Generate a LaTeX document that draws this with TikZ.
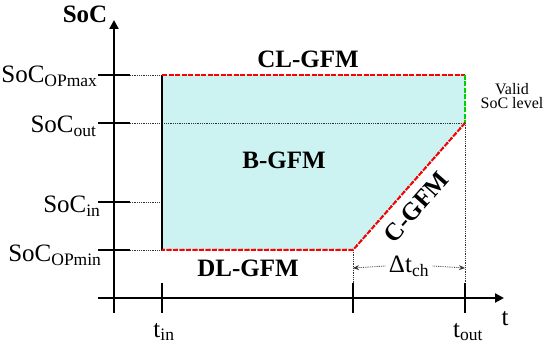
\documentclass[tikz,border=0pt]{standalone}
\usepackage{fontspec}
\setmainfont{Liberation Serif}
\usetikzlibrary{
  arrows.meta,
  positioning,
  calc
}
\definecolor{regionfill}{RGB}{204,242,242}
\definecolor{validgreen}{RGB}{0,210,0}

\begin{document}
\begin{tikzpicture}[
  x=1pt, y=1pt,
  font=\fontsize{25}{28}\selectfont,
  axis/.style={line width=2.2pt, -{Triangle[length=9pt, width=9pt]}},
  tick/.style={line width=2.2pt},
  guide/.style={densely dotted, line width=0.8pt, black!80},
  border/.style={line width=2pt, black, dash pattern=on 1.5pt off 5pt},
  redline/.style={line width=2pt, red, dash pattern=on 5pt off 1.5pt},
  greenline/.style={line width=2pt, validgreen, dash pattern=on 5pt off 1.5pt},
  modelabel/.style={font=\fontsize{25}{28}\selectfont\bfseries},
  levellabel/.style={anchor=base east},
  timelabel/.style={anchor=base},
  smalltext/.style={font=\fontsize{16}{17}\selectfont, align=center},
]
\useasboundingbox (0,0) rectangle (546,348);

% corners of the region
\coordinate (tl) at (162,273);
\coordinate (tr) at (465,273);
\coordinate (mr) at (465,225);
\coordinate (bk) at (353,98);
\coordinate (bl) at (162,98);

% shaded region
\fill[regionfill] (tl) -- (tr) -- (mr) -- (bk) -- (bl) -- cycle;

% axes
\coordinate (ybot) at (114,35);
\coordinate (ytop) at (114,328);
\coordinate (xleft) at (98,50);
\coordinate (xright) at (504,50);
\draw[axis] (ybot) -- (ytop);
\draw[axis] (xleft) -- (xright);

% level ticks
\foreach \name/\y in {opmax/273, out/225, in/146, opmin/98} {
  \coordinate (tk-\name) at (98,\y);
  \coordinate (te-\name) at (130,\y);
  \draw[tick] (tk-\name) -- (te-\name);
}

% time ticks
\foreach \name/\x in {tin/162, tch/353, tout/465} {
  \coordinate (tb-\name) at (\x,35);
  \coordinate (tt-\name) at (\x,65);
  \draw[tick] (tb-\name) -- (tt-\name);
}

% guides
\draw[guide] (te-opmax) -- (tl);
\draw[guide] (te-out) -- (mr);
\draw[guide] (te-in) -- (162,146);
\draw[guide] (te-opmin) -- (bl);
\draw[guide] (mr) -- (tt-tout);
\draw[guide] (bk) -- (tt-tch);

% region border
\draw[line width=2pt] (bl) -- (tl);
\draw[border] (tl) -- (tr);
\draw[redline] (tl) -- (tr);
\draw[border] (tr) -- (mr);
\draw[greenline] (tr) -- (mr);
\draw[border] (mr) -- (bk) -- (bl);
\draw[redline] (mr) -- (bk) -- (bl);

% charging time
\node (dt) at (409,82) {Δt\textsubscript{ch}};
\coordinate (dtl) at (353,80);
\coordinate (dtr) at (465,80);
\draw[guide, -{Stealth[length=6pt, width=5pt]}] (dt.west) -- (dtl);
\draw[guide, -{Stealth[length=6pt, width=5pt]}] (dt.east) -- (dtr);

% axis labels
\node[modelabel, anchor=base] (soc) at (85,325) {SoC};
\node[anchor=base] (t) at (505,23) {t};

% level labels
\node[levellabel] (l-opmax) at (101,265) {SoC\textsubscript{OPmax}};
\node[levellabel] (l-out)   at (100,215) {SoC\textsubscript{out}};
\node[levellabel] (l-in)    at (104,135) {SoC\textsubscript{in}};
\node[levellabel] (l-opmin) at (105,86)  {SoC\textsubscript{OPmin}};

% time labels
\node[timelabel] (l-tin)  at (164,11) {t\textsubscript{in}};
\node[timelabel] (l-tout) at (468,11) {t\textsubscript{out}};

% modes
\node[modelabel, anchor=base] (clgfm) at (308,280) {CL-GFM};
\node[modelabel, anchor=base] (bgfm)  at (284,179) {B-GFM};
\node[modelabel, anchor=base] (dlgfm) at (248,71)  {DL-GFM};
\node[modelabel, rotate=48.6, inner sep=1pt] (cgfm) at (416,141) {C-GFM};
\node[smalltext] (valid) at (512,252) {Valid\\[-3pt]SoC level};

\end{tikzpicture}
\end{document}
